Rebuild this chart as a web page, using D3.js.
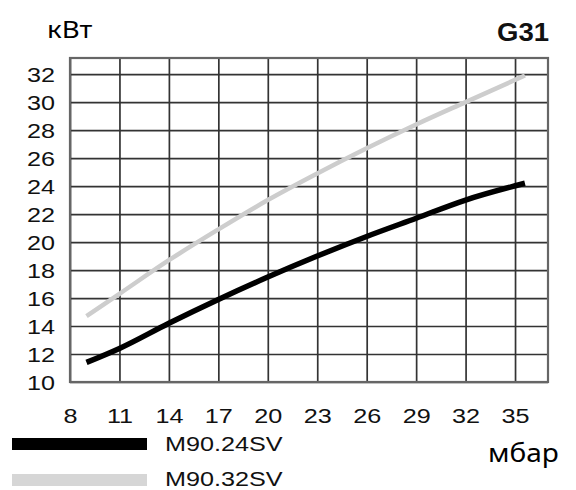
<!DOCTYPE html>
<html>
<head>
<meta charset="utf-8">
<script src="https://cdn.jsdelivr.net/npm/d3@7"></script>
<style>
  body { margin: 0; background: #fff; }
  svg { display: block; }
</style>
</head>
<body>
<div id="chart"></div>
<script>
// pressure, mbar
const pressure = [9, 11, 14, 17, 20, 23, 26, 29, 32, 35.6]
// power, kW
const m9024sv = [11.4, 12.4, 14.2, 15.9, 17.5, 19.0, 20.4, 21.7, 23.0, 24.2]
const m9032sv = [14.7, 16.3, 18.7, 20.9, 23.0, 24.9, 26.7, 28.4, 30.0, 31.9]

const xTicks = [8, 11, 14, 17, 20, 23, 26, 29, 32, 35]
const yTicks = [10, 12, 14, 16, 18, 20, 22, 24, 26, 28, 30, 32]

const seriesNames = ['M90.24SV', 'M90.32SV']

const width = 576
const height = 490
const stretch = 1.2   // the source picture is a little wider than tall

const x = d3.scaleLinear().domain([8, 37]).range([70, 548])
const y = d3.scaleLinear().domain([10, 33.15]).range([382, 58])

const svg = d3.select('#chart').append('svg')
  .attr('width', width)
  .attr('height', height)

// grid + tick labels
svg.append('g')
  .attr('transform', `translate(0, ${y.range()[0]})`)
  .call(d3.axisBottom(x).tickValues(xTicks).tickSize(-(y.range()[0] - y.range()[1])).tickFormat(d3.format('d')))
  .call(g => g.select('.domain').remove())
  .call(g => g.selectAll('.tick line').attr('stroke', '#333').attr('stroke-width', 1.7))
  .call(g => g.selectAll('.tick text')
    .attr('y', 41).attr('dy', 0)
    .attr('transform', `scale(${stretch},1)`)
    .attr('font-family', 'Liberation Sans, Arial, sans-serif')
    .attr('font-size', 21)
    .attr('fill', '#111'))

svg.append('g')
  .attr('transform', `translate(${x.range()[0]}, 0)`)
  .call(d3.axisLeft(y).tickValues(yTicks).tickSize(-(x.range()[1] - x.range()[0])).tickFormat(d3.format('d')))
  .call(g => g.select('.domain').remove())
  .call(g => g.selectAll('.tick line').attr('stroke', '#333').attr('stroke-width', 1.7))
  .call(g => g.selectAll('.tick text')
    .attr('x', -12.5).attr('dy', '0.36em')
    .attr('transform', `scale(${stretch},1)`)
    .attr('font-family', 'Liberation Sans, Arial, sans-serif')
    .attr('font-size', 21)
    .attr('fill', '#111'))

// frame
svg.append('rect')
  .attr('x', x.range()[0])
  .attr('y', y.range()[1])
  .attr('width', x.range()[1] - x.range()[0])
  .attr('height', y.range()[0] - y.range()[1])
  .attr('fill', 'none')
  .attr('stroke', '#666')
  .attr('stroke-width', 2.2)

// curves
let line = d3.line()
  .x(d => x(d[0]))
  .y(d => y(d[1]))
  .curve(d3.curveMonotoneX)

svg.append('path')
  .datum(d3.zip(pressure, m9032sv))
  .attr('d', line)
  .attr('fill', 'none')
  .attr('stroke', '#cdcdcd')
  .attr('stroke-width', 4.5)

svg.append('path')
  .datum(d3.zip(pressure, m9024sv))
  .attr('d', line)
  .attr('fill', 'none')
  .attr('stroke', '#000')
  .attr('stroke-width', 5.5)

// titles
let addText = (txt, px, py, opts) => {
  svg.append('text')
    .attr('transform', `translate(${px}, ${py}) scale(${opts.sx || stretch},1)`)
    .attr('font-family', opts.family || 'Liberation Sans, Arial, sans-serif')
    .attr('font-size', opts.size || 21)
    .attr('font-weight', opts.weight || 'normal')
    .attr('fill', opts.fill || '#111')
    .text(txt)
}

addText('кВт', 47, 38, { family: 'Noto Sans, sans-serif', size: 24, fill: '#000', sx: 1.15 })
addText('G31', 497, 41, { size: 25, weight: 'bold', fill: '#111', sx: 1.1 })
addText('мбар', 488, 462, { family: 'Noto Sans, sans-serif', size: 25, fill: '#000', sx: 1.12 })

// legend
let legend = svg.append('g')
seriesNames.forEach((name, i) => {
  legend.append('rect')
    .attr('x', 12)
    .attr('y', 438 + i * 36)
    .attr('width', 135)
    .attr('height', 12)
    .attr('fill', i === 0 ? '#000' : '#d6d6d6')
})
addText(seriesNames[0], 165, 451, {})
addText(seriesNames[1], 165, 486, {})
</script>
</body>
</html>
